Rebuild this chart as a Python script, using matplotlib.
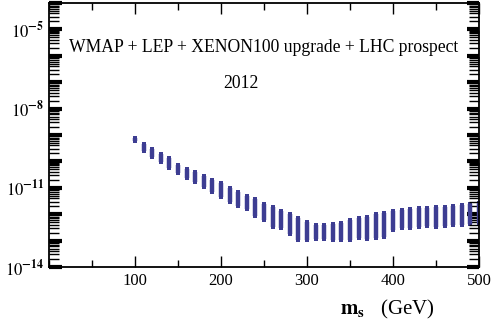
import numpy as np
import matplotlib
matplotlib.use("Agg")
import matplotlib.pyplot as plt
from matplotlib.ticker import FixedLocator, FuncFormatter, LogLocator, MultipleLocator

plt.rcParams['font.family'] = 'serif'
plt.rcParams['font.serif'] = ['Liberation Serif', 'DejaVu Serif']
plt.rcParams['mathtext.fontset'] = 'stix'

# scalar mass (GeV) and the spread of the quantity per column (log10 values)
ms = [100, 110, 120, 130, 140, 150, 160, 170, 180, 190,
      200, 210, 220, 230, 240, 250, 260, 270, 280, 290,
      300, 310, 320, 330, 340, 350, 360, 370, 380, 390,
      400, 410, 420, 430, 440, 450, 460, 470, 480, 490, 500]
log_hi = [-9.11, -9.34, -9.53, -9.72, -9.87, -10.14, -10.29, -10.40, -10.55, -10.70,
          -10.82, -11.00, -11.16, -11.31, -11.42, -11.61, -11.73, -11.88, -11.99, -12.14,
          -12.30, -12.41, -12.41, -12.37, -12.33, -12.22, -12.14, -12.11, -11.99, -11.95,
          -11.88, -11.84, -11.80, -11.77, -11.77, -11.73, -11.73, -11.69, -11.65, -11.61, -11.58]
log_lo = [-9.23, -9.61, -9.83, -10.02, -10.25, -10.44, -10.63, -10.78, -10.97, -11.16,
          -11.35, -11.54, -11.69, -11.80, -12.07, -12.22, -12.48, -12.52, -12.75, -12.98,
          -12.98, -12.94, -12.94, -12.98, -12.98, -12.98, -12.90, -12.94, -12.90, -12.86,
          -12.60, -12.52, -12.52, -12.48, -12.45, -12.48, -12.45, -12.41, -12.41, -12.37, -12.33]

ms = np.array(ms)
hi = 10.0 ** np.array(log_hi)
lo = 10.0 ** np.array(log_lo)

fig = plt.figure(figsize=(5.03, 3.28), dpi=100)
ax = fig.add_axes([0.0974, 0.186, 0.855, 0.805])

col = '#3d3d92'
ax.vlines(ms, lo, hi, colors=col, linewidth=3.2)
ax.scatter(ms, hi, marker='s', s=10, color=col, linewidths=0)
ax.scatter(ms, lo, marker='s', s=10, color=col, linewidths=0)

ax.set_yscale('log')
ax.set_xlim(0, 500)
ax.set_ylim(1e-14, 1e-4)

# ticks
ax.xaxis.set_major_locator(FixedLocator([100, 200, 300, 400, 500]))
ax.xaxis.set_minor_locator(MultipleLocator(50))
ax.yaxis.set_major_locator(FixedLocator([10.0 ** k for k in range(-14, -3)]))
ax.yaxis.set_minor_locator(LogLocator(base=10, subs=np.arange(2, 10), numticks=20))

def ylab(v, pos):
    k = int(round(np.log10(v)))
    if k in (-14, -11, -8, -5):
        return r'$10^{\mathbf{%d}}$' % k
    return ''

ax.yaxis.set_major_formatter(FuncFormatter(ylab))
ax.yaxis.set_minor_formatter(FuncFormatter(lambda v, p: ''))

ax.tick_params(which='both', direction='in', top=True, right=True, labelsize=12)
ax.tick_params(axis='y', which='major', length=9, width=3)
ax.tick_params(axis='y', which='minor', length=7, width=1)
ax.tick_params(axis='x', which='major', length=8, width=1)
ax.tick_params(axis='x', which='minor', length=5, width=1)
ax.tick_params(axis='x', pad=4)
for s in ax.spines.values():
    s.set_linewidth(1.3)

ax.text(0.5, 0.83, 'WMAP + LEP + XENON100 upgrade + LHC prospect',
        transform=ax.transAxes, ha='center', va='center', fontsize=12.7)
ax.text(0.447, 0.695, '2012', transform=ax.transAxes, ha='center', va='center', fontsize=12.7)

fig.text(0.77, 0.055, r'$\mathbf{m_s}$   (GeV)', ha='center', va='center', fontsize=15)

fig.savefig('out.png', dpi=100)
